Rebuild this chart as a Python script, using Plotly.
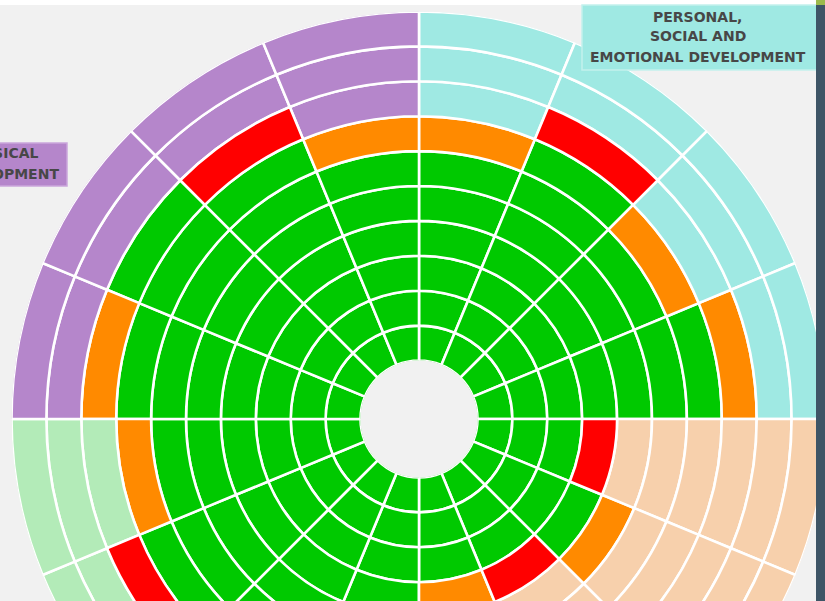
import plotly.graph_objects as go

# ---------------- data ----------------
# 16 aspects, clockwise from 12 o'clock, 4 per area (quadrant)
aspect_names = [f"Aspect {i + 1}" for i in range(16)]
area_of_aspect = (["PSED"] * 4 + ["Area 2"] * 4 + ["Area 3"] * 4 + ["PD"] * 4)
# number of bands achieved (green) in each aspect, inner band first
achieved_bands = [6, 7, 6, 7, 3, 4, 3, 3, 5, 6, 7, 6, 7, 8, 7, 6]
# status of the band just after the achieved ones
next_band_status = ["amber", "red", "amber", "amber",
                    "red", "amber", "red", "amber",
                    "amber", "red", "red", "amber",
                    "amber", "none", "red", "amber"]
band_count = 10

area_titles = {"PSED": ["PERSONAL,", "SOCIAL AND", "EMOTIONAL DEVELOPMENT"],
               "PD": ["PHYSICAL", "DEVELOPMENT"]}

# ---------------- styles ----------------
area_colors = {"PSED": "#9fe9e3", "Area 2": "#f7d0ac",
               "Area 3": "#b3ebb8", "PD": "#b586cb"}
status_colors = {"achieved": "#00c900", "amber": "#ff8a00", "red": "#ff0000"}
BG = "#f1f1f1"

W, H = 840, 840          # figure larger than the window; page clips to 825x601
CX, CY = 419, 419
R_OUT, R_HOLE = 407.5, 58.5


def px(x):
    return x / W


def py(y):
    return 1 - y / H


groups = {}
sector_width = 360 / len(aspect_names)
for s, name in enumerate(aspect_names):
    theta = sector_width * (s + 0.5)
    for band in range(band_count):
        if band < achieved_bands[s]:
            status, color = "achieved", status_colors["achieved"]
        elif band == achieved_bands[s] and next_band_status[s] != "none":
            status = next_band_status[s]
            color = status_colors[status]
        else:
            status, color = "remaining", area_colors[area_of_aspect[s]]
        g = groups.setdefault(status, {"theta": [], "base": [], "color": [], "text": []})
        g["theta"].append(theta)
        g["base"].append(band)
        g["color"].append(color)
        g["text"].append(f"{name} – band {band + 1}")

fig = go.Figure()
for status, g in groups.items():
    n = len(g["theta"])
    fig.add_trace(go.Barpolar(
        r=[1] * n, base=g["base"], theta=g["theta"], width=[sector_width] * n,
        marker=dict(color=g["color"], line=dict(color="white", width=2.6)),
        text=g["text"], hoverinfo="text", name=status, showlegend=False,
    ))

fig.update_layout(
    width=W, height=H,
    margin=dict(l=0, r=0, t=0, b=0),
    paper_bgcolor=BG, plot_bgcolor=BG,
    showlegend=False,
    polar=dict(
        domain=dict(x=[px(CX - R_OUT), px(CX + R_OUT)],
                    y=[py(CY + R_OUT), py(CY - R_OUT)]),
        hole=R_HOLE / R_OUT,
        bgcolor=BG,
        barmode="overlay",
        radialaxis=dict(range=[0, band_count], visible=False, showgrid=False),
        angularaxis=dict(rotation=90, direction="clockwise", visible=False,
                         showgrid=False),
    ),
)

shapes = [
    # white strip at the very top
    dict(type="rect", xref="paper", yref="paper", x0=px(0), x1=px(W), y0=py(0), y1=py(5),
         fillcolor="white", line=dict(width=0), layer="below"),
    # area title boxes
    dict(type="rect", xref="paper", yref="paper", x0=px(582), x1=px(830), y0=py(5), y1=py(70),
         fillcolor=area_colors["PSED"], line=dict(color="#c3f1ed", width=1.5), layer="above"),
    dict(type="rect", xref="paper", yref="paper", x0=px(-80), x1=px(67), y0=py(143), y1=py(186),
         fillcolor=area_colors["PD"], line=dict(color="#caa6db", width=1.5), layer="above"),
    # slide frame on the right
    dict(type="rect", xref="paper", yref="paper", x0=px(816), x1=px(W), y0=py(5), y1=py(H),
         fillcolor="#3e5566", line=dict(width=0), layer="above"),
    dict(type="rect", xref="paper", yref="paper", x0=px(816), x1=px(W), y0=py(0), y1=py(5),
         fillcolor="#9cba4c", line=dict(width=0), layer="above"),
]
fig.update_layout(shapes=shapes)

font = dict(family="DejaVu Sans, Arial", size=14, color="#474747", weight="bold")
annotations = []
for line, yc in zip(area_titles["PSED"], [16.5, 36.5, 57]):
    annotations.append(dict(text=line, x=px(697.5), y=py(yc), xref="paper", yref="paper",
                            xanchor="center", yanchor="middle", showarrow=False, font=font))
for line, yc in zip(area_titles["PD"], [152.5, 174]):
    annotations.append(dict(text=line, x=px(0.3), y=py(yc), xref="paper", yref="paper",
                            xanchor="center", yanchor="middle", showarrow=False, font=font))
fig.update_layout(annotations=annotations)

clip_js = (
    "var d=document.getElementById('{plot_id}');"
    "document.body.style.margin='0';"
    "document.body.style.overflow='hidden';"
    "var p=d.parentElement;p.style.width='825px';p.style.height='601px';"
    "p.style.overflow='hidden';"
)
fig.write_html("out.html", post_script=clip_js, config={"displayModeBar": False})
